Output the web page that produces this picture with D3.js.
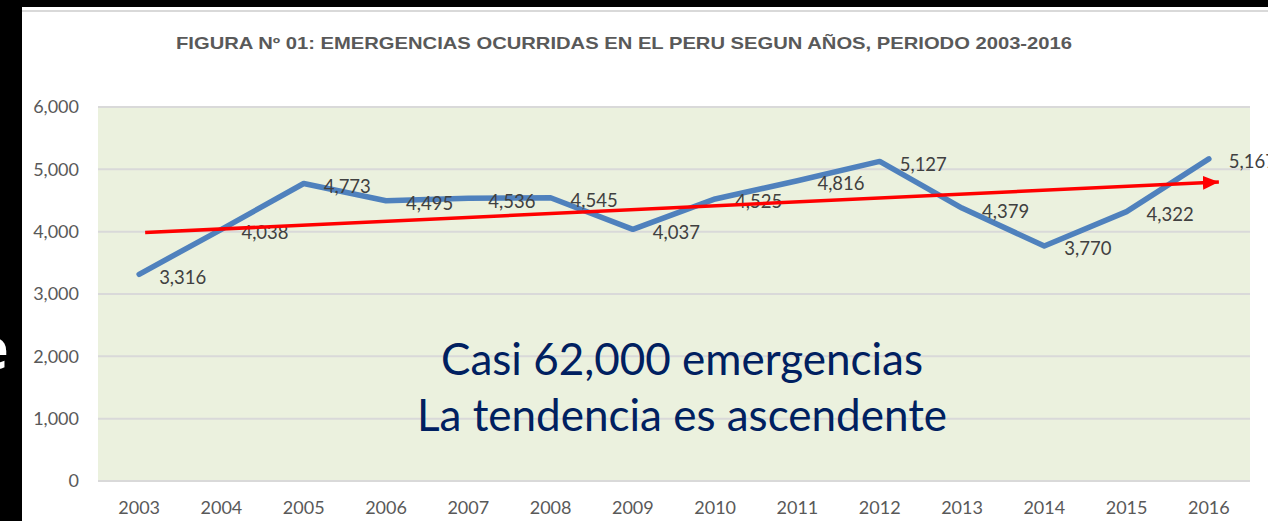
<!DOCTYPE html>
<html>
<head>
<meta charset="utf-8">
<script src="https://cdn.jsdelivr.net/npm/d3@7"></script>
<style>
  body { margin: 0; background: #000; }
  svg { display: block; }
</style>
</head>
<body>
<div id="chart1"></div>
<script>
const years = [2003, 2004, 2005, 2006, 2007, 2008, 2009, 2010, 2011, 2012, 2013, 2014, 2015, 2016];
const emergencias = [3316, 4038, 4773, 4495, 4536, 4545, 4037, 4525, 4816, 5127, 4379, 3770, 4322, 5167];
const yTicks = [0, 1000, 2000, 3000, 4000, 5000, 6000];
const trendYears = [2003, 2016];
const trendValues = [3985, 4797];
const titulo = "FIGURA Nº 01: EMERGENCIAS OCURRIDAS EN EL PERU SEGUN AÑOS, PERIODO 2003-2016";
const nota = ["Casi 62,000 emergencias", "La tendencia es ascendente"];

const W = 1268, H = 521;
const margin = {top: 107, right: 18, bottom: 40, left: 98},
    width = W - margin.left - margin.right,
    height = H - margin.top - margin.bottom;

const root = d3.select("#chart1")
  .append("svg")
    .attr("width", W)
    .attr("height", H);

// bit of the slide text showing at the left edge
root.append("text")
  .attr("x", 9)
  .attr("y", 369)
  .attr("text-anchor", "end")
  .attr("fill", "#fff")
  .attr("font-family", "Noto Sans")
  .attr("font-weight", "bold")
  .attr("font-size", 58)
  .text("e");

root.append("rect")
  .attr("x", 22).attr("y", 7)
  .attr("width", W - 22).attr("height", H - 7)
  .attr("fill", "#fff");

root.append("line")
  .attr("x1", 22).attr("x2", W)
  .attr("y1", 11).attr("y2", 11)
  .attr("stroke", "#d9d9d9")
  .attr("stroke-width", 2);

root.append("text")
  .attr("x", 176)
  .attr("y", 49)
  .attr("textLength", 896)
  .attr("lengthAdjust", "spacingAndGlyphs")
  .attr("fill", "#595959")
  .attr("font-family", "Liberation Sans, Arial, sans-serif")
  .attr("font-weight", "bold")
  .attr("font-size", 16.5)
  .text(titulo);

const svg = root.append("g")
  .attr("transform", `translate(${margin.left},${margin.top})`);

svg.append("rect")
  .attr("width", width)
  .attr("height", height)
  .attr("fill", "#ebf1de");

const x = d3.scaleBand()
  .domain(years)
  .range([0, width]);

const y = d3.scaleLinear()
  .domain([0, 6000])
  .range([height, 0]);

const cx = d => x(d) + x.bandwidth() / 2;

// gridlines
svg.append("g")
  .selectAll("line")
  .data(yTicks)
  .join("line")
    .attr("x1", 0).attr("x2", width)
    .attr("y1", d => y(d)).attr("y2", d => y(d))
    .attr("stroke", "#d9d9d9")
    .attr("stroke-width", 2);

const yAxis = svg.append("g")
  .call(d3.axisLeft(y).tickValues(yTicks).tickFormat(d3.format(",")).tickSize(0).tickPadding(19));
yAxis.select(".domain").remove();

const xAxis = svg.append("g")
  .attr("transform", `translate(0, ${height})`)
  .call(d3.axisBottom(x).tickSize(0).tickPadding(20));
xAxis.select(".domain").remove();

svg.selectAll(".tick text")
  .attr("fill", "#595959")
  .attr("font-family", "Lato, Carlito, sans-serif")
  .attr("font-size", 18);

const data = years.map((yr, i) => ({year: yr, value: emergencias[i]}));

svg.append("path")
  .datum(data)
  .attr("fill", "none")
  .attr("stroke", "#4f81bd")
  .attr("stroke-width", 5.5)
  .attr("stroke-linejoin", "round")
  .attr("stroke-linecap", "round")
  .attr("d", d3.line()
    .x(d => cx(d.year))
    .y(d => y(d.value)));

svg.append("g")
  .selectAll("text")
  .data(data)
  .join("text")
    .attr("x", d => cx(d.year) + 20)
    .attr("y", d => y(d.value) + 3)
    .attr("dy", "0.35em")
    .attr("fill", "#404040")
    .attr("font-family", "Lato, Carlito, sans-serif")
    .attr("font-size", 18.5)
    .text(d => d3.format(",")(d.value));

// hand drawn trend arrow
svg.append("defs").append("marker")
  .attr("id", "head")
  .attr("viewBox", "0 0 16 14")
  .attr("refX", 16).attr("refY", 7)
  .attr("markerWidth", 16).attr("markerHeight", 14)
  .attr("markerUnits", "userSpaceOnUse")
  .attr("orient", "auto")
  .append("path")
    .attr("d", "M0,0L16,7L0,14Z")
    .attr("fill", "#ff0000");

svg.append("line")
  .attr("x1", cx(trendYears[0]) + 6)
  .attr("y1", y(trendValues[0]))
  .attr("x2", cx(trendYears[1]) + 10)
  .attr("y2", y(trendValues[1]))
  .attr("stroke", "#ff0000")
  .attr("stroke-width", 3.5)
  .attr("marker-end", "url(#head)");

// note over the chart
svg.append("g")
  .selectAll("text")
  .data(nota)
  .join("text")
    .attr("x", 584)
    .attr("y", (d, i) => 268 + i * 56)
    .attr("text-anchor", "middle")
    .attr("fill", "#002060")
    .attr("font-family", "Lato, Carlito, sans-serif")
    .attr("font-size", 44)
    .text(d => d);
</script>
</body>
</html>
